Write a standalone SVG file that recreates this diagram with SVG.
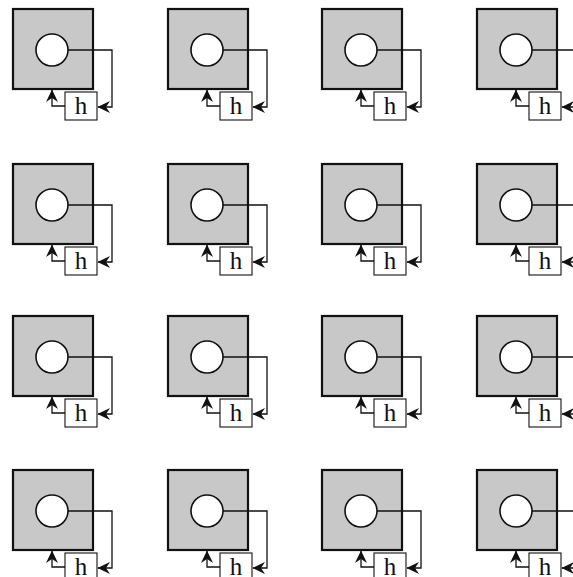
<svg xmlns="http://www.w3.org/2000/svg" width="573" height="577" viewBox="0 0 573 577">
<style>
.sq{fill:#c8c8c8;stroke:#111;stroke-width:2.2}
.ci{fill:#fff;stroke:#111;stroke-width:1.6}
.hb{fill:#fff;stroke:#111;stroke-width:1.1}
.ht{font-family:"Liberation Serif","Times New Roman",serif;font-size:25px;fill:#111;text-anchor:middle}
.ln{fill:none;stroke:#111;stroke-width:1.3}
</style>
<defs>
<marker id="ah" markerUnits="userSpaceOnUse" markerWidth="13" markerHeight="13" viewBox="0 0 13 13" refX="12" refY="6.5" orient="auto">
<path d="M0,0.5 L12.5,6.5 L0,12.5 L4,6.5 z" fill="#111"/>
</marker>
<g id="cellbody">
<rect class="sq" x="13" y="9" width="80" height="80"/>
<circle class="ci" cx="52" cy="50" r="16"/>
</g>
<g id="hnode">
<rect class="hb" x="65" y="92" width="32" height="28"/>
<text class="ht" x="81" y="114">h</text>
</g>
<g id="links">
<polyline class="ln" points="68,50 112,50 112,107 98,107" marker-end="url(#ah)"/>
<polyline class="ln" points="65,106 52,106 52,90" marker-end="url(#ah)"/>
</g>
</defs>
<rect width="573" height="577" fill="#fff"/>
<g id="nodes">
<g id="plant-r1c1" transform="translate(0,0)"><use href="#cellbody"/></g>
<g id="h-r1c1" transform="translate(0,0)"><use href="#hnode"/></g>
<g id="plant-r1c2" transform="translate(155,0)"><use href="#cellbody"/></g>
<g id="h-r1c2" transform="translate(155,0)"><use href="#hnode"/></g>
<g id="plant-r1c3" transform="translate(309,0)"><use href="#cellbody"/></g>
<g id="h-r1c3" transform="translate(309,0)"><use href="#hnode"/></g>
<g id="plant-r1c4" transform="translate(464,0)"><use href="#cellbody"/></g>
<g id="h-r1c4" transform="translate(464,0)"><use href="#hnode"/></g>
<g id="plant-r2c1" transform="translate(0,155)"><use href="#cellbody"/></g>
<g id="h-r2c1" transform="translate(0,155)"><use href="#hnode"/></g>
<g id="plant-r2c2" transform="translate(155,155)"><use href="#cellbody"/></g>
<g id="h-r2c2" transform="translate(155,155)"><use href="#hnode"/></g>
<g id="plant-r2c3" transform="translate(309,155)"><use href="#cellbody"/></g>
<g id="h-r2c3" transform="translate(309,155)"><use href="#hnode"/></g>
<g id="plant-r2c4" transform="translate(464,155)"><use href="#cellbody"/></g>
<g id="h-r2c4" transform="translate(464,155)"><use href="#hnode"/></g>
<g id="plant-r3c1" transform="translate(0,307)"><use href="#cellbody"/></g>
<g id="h-r3c1" transform="translate(0,307)"><use href="#hnode"/></g>
<g id="plant-r3c2" transform="translate(155,307)"><use href="#cellbody"/></g>
<g id="h-r3c2" transform="translate(155,307)"><use href="#hnode"/></g>
<g id="plant-r3c3" transform="translate(309,307)"><use href="#cellbody"/></g>
<g id="h-r3c3" transform="translate(309,307)"><use href="#hnode"/></g>
<g id="plant-r3c4" transform="translate(464,307)"><use href="#cellbody"/></g>
<g id="h-r3c4" transform="translate(464,307)"><use href="#hnode"/></g>
<g id="plant-r4c1" transform="translate(0,461)"><use href="#cellbody"/></g>
<g id="h-r4c1" transform="translate(0,461)"><use href="#hnode"/></g>
<g id="plant-r4c2" transform="translate(155,461)"><use href="#cellbody"/></g>
<g id="h-r4c2" transform="translate(155,461)"><use href="#hnode"/></g>
<g id="plant-r4c3" transform="translate(309,461)"><use href="#cellbody"/></g>
<g id="h-r4c3" transform="translate(309,461)"><use href="#hnode"/></g>
<g id="plant-r4c4" transform="translate(464,461)"><use href="#cellbody"/></g>
<g id="h-r4c4" transform="translate(464,461)"><use href="#hnode"/></g>
</g>
<g id="connectors">
<use href="#links" transform="translate(0,0)"/>
<use href="#links" transform="translate(155,0)"/>
<use href="#links" transform="translate(309,0)"/>
<use href="#links" transform="translate(464,0)"/>
<use href="#links" transform="translate(0,155)"/>
<use href="#links" transform="translate(155,155)"/>
<use href="#links" transform="translate(309,155)"/>
<use href="#links" transform="translate(464,155)"/>
<use href="#links" transform="translate(0,307)"/>
<use href="#links" transform="translate(155,307)"/>
<use href="#links" transform="translate(309,307)"/>
<use href="#links" transform="translate(464,307)"/>
<use href="#links" transform="translate(0,461)"/>
<use href="#links" transform="translate(155,461)"/>
<use href="#links" transform="translate(309,461)"/>
<use href="#links" transform="translate(464,461)"/>
</g>
</svg>
